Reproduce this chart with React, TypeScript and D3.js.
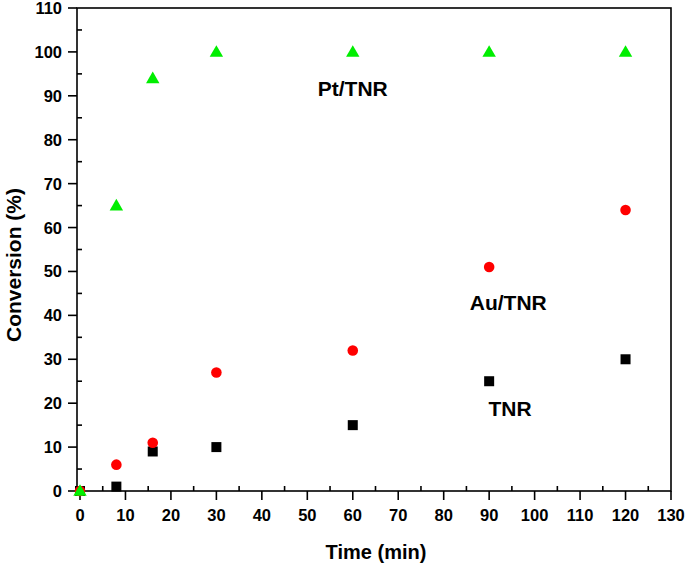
import React from "react";
import * as d3 from "d3";

const times = [0, 8, 16, 30, 60, 90, 120];
const tnr = [0, 1, 9, 10, 15, 25, 30];
const auTnr = [0, 6, 11, 27, 32, 51, 64];
const ptTnr = [0, 65, 94, 100, 100, 100, 100];
const xTicks = d3.range(0, 131, 10);
const yTicks = d3.range(0, 111, 10);
const labels = [
  { text: "Pt/TNR", x: 60, y: 90 },
  { text: "Au/TNR", x: 94.2, y: 41.2 },
  { text: "TNR", x: 94.6, y: 17 },
];

const W = 685, H = 565;
const L = 77, R = 671, T = 8, B = 491;

export default function App() {
  const x = d3.scaleLinear().domain([-0.66, 130]).range([L, R]);
  const y = d3.scaleLinear().domain([0, 110]).range([B, T]);
  const font = "'Liberation Sans', Arial, sans-serif";
  const xMinor = d3.range(5, 130, 10);
  const yMinor = d3.range(5, 110, 10);
  const tri = d3.symbol().type(d3.symbolTriangle).size(78)();
  return (
    <svg width={W} height={H} style={{ position: "absolute", left: 0, top: 0, background: "#fff" }} fontFamily={font}>
      <rect x={0} y={0} width={W} height={H} fill="#fff" />
      <rect x={L} y={T} width={R - L} height={B - T} fill="none" stroke="#000" strokeWidth={1.6} />
      {xTicks.map((t) => (
        <g key={"xt" + t}>
          <line x1={x(t)} x2={x(t)} y1={B} y2={B + 9} stroke="#000" strokeWidth={1.6} />
          <text x={x(t)} y={B + 29.5} textAnchor="middle" fontSize={16.5} fontWeight="bold">{t}</text>
        </g>
      ))}
      {xMinor.map((t) => (
        <line key={"xm" + t} x1={x(t)} x2={x(t)} y1={B} y2={B - 5} stroke="#000" strokeWidth={1.6} />
      ))}
      {yTicks.map((t) => (
        <g key={"yt" + t}>
          <line x1={L} x2={L - 9} y1={y(t)} y2={y(t)} stroke="#000" strokeWidth={1.6} />
          <text x={L - 15} y={y(t) + 6} textAnchor="end" fontSize={16.5} fontWeight="bold">{t}</text>
        </g>
      ))}
      {yMinor.map((t) => (
        <line key={"ym" + t} x1={L} x2={L + 5} y1={y(t)} y2={y(t)} stroke="#000" strokeWidth={1.6} />
      ))}
      <text x={376} y={559} textAnchor="middle" fontSize={20} fontWeight="bold">Time (min)</text>
      <text transform={`translate(21,265) rotate(-90)`} textAnchor="middle" fontSize={21} fontWeight="bold">Conversion (%)</text>
      {times.map((t, i) => (
        <rect key={"s" + i} x={x(t) - 5} y={y(tnr[i]) - 5} width={10} height={10} fill="#000" />
      ))}
      {times.map((t, i) => (
        <circle key={"c" + i} cx={x(t)} cy={y(auTnr[i])} r={5.3} fill="#ff0000" />
      ))}
      {times.map((t, i) => (
        <path key={"t" + i} d={tri as string} transform={`translate(${x(t)},${y(ptTnr[i]) + 1})`} fill="#00ee00" />
      ))}
      {labels.map((l) => (
        <text key={l.text} x={x(l.x)} y={y(l.y)} textAnchor="middle" fontSize={21} fontWeight="bold">{l.text}</text>
      ))}
    </svg>
  );
}
